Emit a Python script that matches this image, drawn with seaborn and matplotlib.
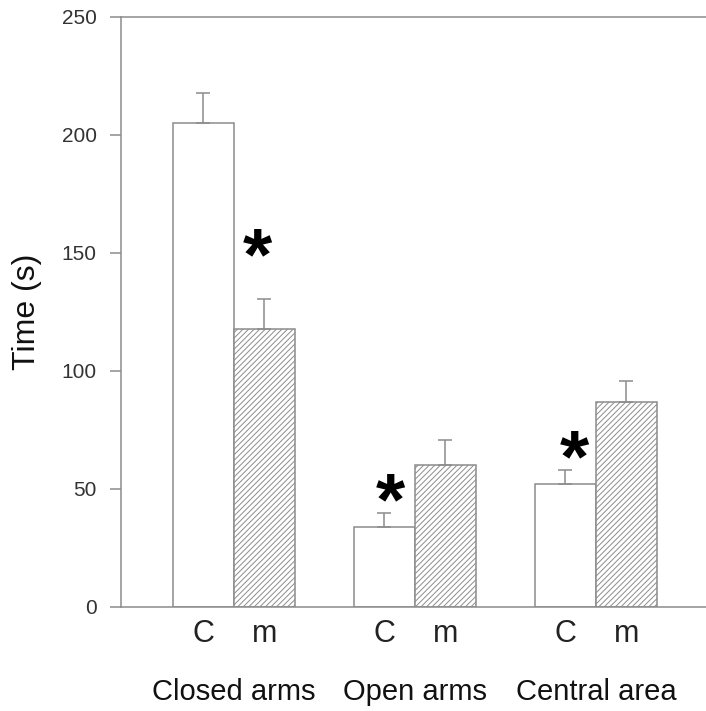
import numpy as np
import pandas as pd
import matplotlib
matplotlib.use("Agg")
import matplotlib.pyplot as plt
import seaborn as sns

# values
regions = ["Closed arms", "Open arms", "Central area"]
groups = ["C", "m"]
c_means = [205, 34, 52]
c_sem = [13, 5.7, 6]
m_means = [118, 60, 87]
m_sem = [12.7, 10.7, 8.8]

# significance marks (region, group)
stars = [("Closed arms", "m"), ("Open arms", "C"), ("Central area", "C")]
# placement of each asterisk: gap above error bar (data units), x nudge
star_gap = [16.5, 3.5, 3.5]
star_dx = [-0.04, 0.035, 0.05]

df = pd.DataFrame({
    "region": regions * 2,
    "group": ["C"] * len(regions) + ["m"] * len(regions),
    "time": c_means + m_means,
    "sem": c_sem + m_sem,
})

sns.set_style("ticks")
plt.rcParams["font.family"] = ["Liberation Sans", "DejaVu Sans"]
plt.rcParams["hatch.linewidth"] = 0.7
gray = "#8c8c8c"

fig = plt.figure(figsize=(7.06, 7.11), dpi=100)
ax = fig.add_axes([121 / 706, 104 / 711, 585 / 706, 590 / 711])

sns.barplot(data=df, x="region", y="time", hue="group",
            order=regions, hue_order=groups,
            palette={"C": "white", "m": "white"},
            edgecolor=gray, linewidth=1.1, width=0.674,
            errorbar=None, legend=False, ax=ax)

# bar centres per group, hatch on the "m" bars
centers = {}
for grp, cont in zip(groups, list(ax.containers)):
    for reg, bar in zip(regions, cont):
        centers[(reg, grp)] = bar.get_x() + bar.get_width() / 2
        if grp == "m":
            bar.set_hatch("//////")

# upward-only error bars
for grp in groups:
    sub = df[df.group == grp].set_index("region").loc[regions]
    xs = [centers[(r, grp)] for r in regions]
    ax.errorbar(xs, sub["time"], yerr=[np.zeros(len(xs)), sub["sem"]],
                fmt="none", ecolor=gray, elinewidth=1.1,
                capsize=4.7, capthick=1.1, zorder=1)

# asterisks
for (reg, grp), gap, dx in zip(stars, star_gap, star_dx):
    row = df[(df.region == reg) & (df.group == grp)].iloc[0]
    ax.text(centers[(reg, grp)] + dx, row["time"] + row["sem"] + gap, "*",
            ha="center", va="center", fontsize=54, fontweight="bold",
            color="black")

ax.set_xlim(-0.624, 2.608)
ax.set_ylim(0, 250)
ax.set_yticks(range(0, 251, 50))
ax.tick_params(axis="y", length=8, width=1.1, color=gray,
               labelsize=15, labelcolor="#333333", pad=9.4)

ax.set_xticks(range(len(regions)), regions)
keys = sorted(centers, key=centers.get)
ax.set_xticks([centers[k] for k in keys], [k[1] for k in keys], minor=True)
ax.tick_params(axis="x", which="major", length=0, pad=51, labelsize=21,
               labelcolor="#111111")
ax.tick_params(axis="x", which="minor", length=0, pad=9, labelsize=22,
               labelcolor="#222222")

ax.set_xlabel("")
ax.set_ylabel("Time (s)", fontsize=23, labelpad=14, color="#111111")

ax.spines["right"].set_visible(False)
for side in ["top", "left", "bottom"]:
    ax.spines[side].set_color(gray)
    ax.spines[side].set_linewidth(1.1)

fig.savefig("out.png", dpi=100)
